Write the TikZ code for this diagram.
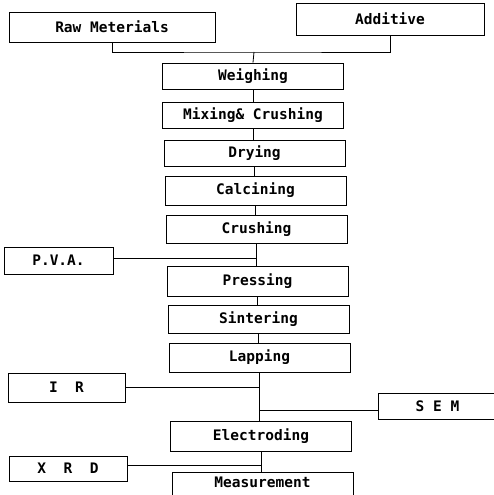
\documentclass[tikz,border=0pt]{standalone}
\usepackage{fontspec}
\newfontfamily\monof{DejaVu Sans Mono}
\begin{document}
\begin{tikzpicture}[x=1pt,y=-1pt,
  txt/.style={font=\monof\bfseries\fontsize{14.5}{16}\selectfont},
  stepbox/.style={draw,line width=0.9pt,minimum width=181pt,minimum height=28pt,inner sep=0pt,txt},
  sidebox/.style={draw,line width=0.9pt,minimum height=28pt,inner sep=0pt,txt},
  link/.style={line width=0.8pt}]
\useasboundingbox (0,0) rectangle (493,495);
\node[sidebox,minimum width=206pt,minimum height=30pt] (raw) at (112,27) {Raw Meterials};
\node[sidebox,minimum width=188pt,minimum height=32pt] (add) at (390,19) {Additive};
\node[stepbox,minimum height=26pt] (weigh) at (253,76) {Weighing};
\node[stepbox,minimum height=26pt] (mix) at (253,115) {Mixing\&~Crushing};
\node[stepbox,minimum height=26pt] (dry) at (254.5,153) {Drying};
\node[stepbox,minimum height=29pt] (calc) at (255.5,190.5) {Calcining};
\node[stepbox] (crush) at (256.5,229) {Crushing};
\node[sidebox,minimum width=109pt,minimum height=27pt] (pva) at (58.5,260.5) {P.V.A.};
\node[stepbox,minimum height=30pt] (press) at (257.5,281) {Pressing};
\node[stepbox] (sint) at (258.5,319) {Sintering};
\node[stepbox,minimum height=29pt] (lap) at (259.5,357.5) {Lapping};
\node[sidebox,minimum width=117pt,minimum height=29pt] (ir) at (66.5,387.5) {I~~R};
\node[sidebox,minimum width=118pt,minimum height=26pt] (sem) at (437.5,406) {S~E~M};
\node[stepbox,minimum height=30pt] (elec) at (261,436) {Electroding};
\node[sidebox,minimum width=118pt,minimum height=25pt] (xrd) at (68,468.5) {X~~R~~D};
\node[stepbox,minimum height=28pt] (meas) at (262.5,486) {};
\node[txt,anchor=north,inner sep=0pt] (meastext) at (262.5,477) {Measurement};
\coordinate (jtop) at (254,52);
\draw[link] (raw.south) |- (jtop) -| (add.south);
\draw[link] (jtop) -- (weigh.north);
\draw[link] (weigh.south) -- (weigh.south |- mix.north);
\draw[link] (mix.south) -- (mix.south |- dry.north);
\draw[link] (dry.south) -- (dry.south |- calc.north);
\draw[link] (calc.south) -- (calc.south |- crush.north);
\draw[link] (crush.south) -- (crush.south |- press.north);
\draw[link] ([yshift=2pt]pva.east) -- ([yshift=2pt]pva.east -| crush.south);
\draw[link] (press.south) -- (press.south |- sint.north);
\draw[link] (sint.south) -- (sint.south |- lap.north);
\draw[link] (lap.south) -- (lap.south |- elec.north);
\draw[link] (ir.east) -- (ir.east -| lap.south);
\draw[link] ([yshift=-4pt]sem.west) -- ([yshift=-4pt]sem.west -| lap.south);
\draw[link] (elec.south) -- (elec.south |- meas.north);
\draw[link] ([yshift=3pt]xrd.east) -- ([yshift=3pt]xrd.east -| elec.south);
\end{tikzpicture}
\end{document}
